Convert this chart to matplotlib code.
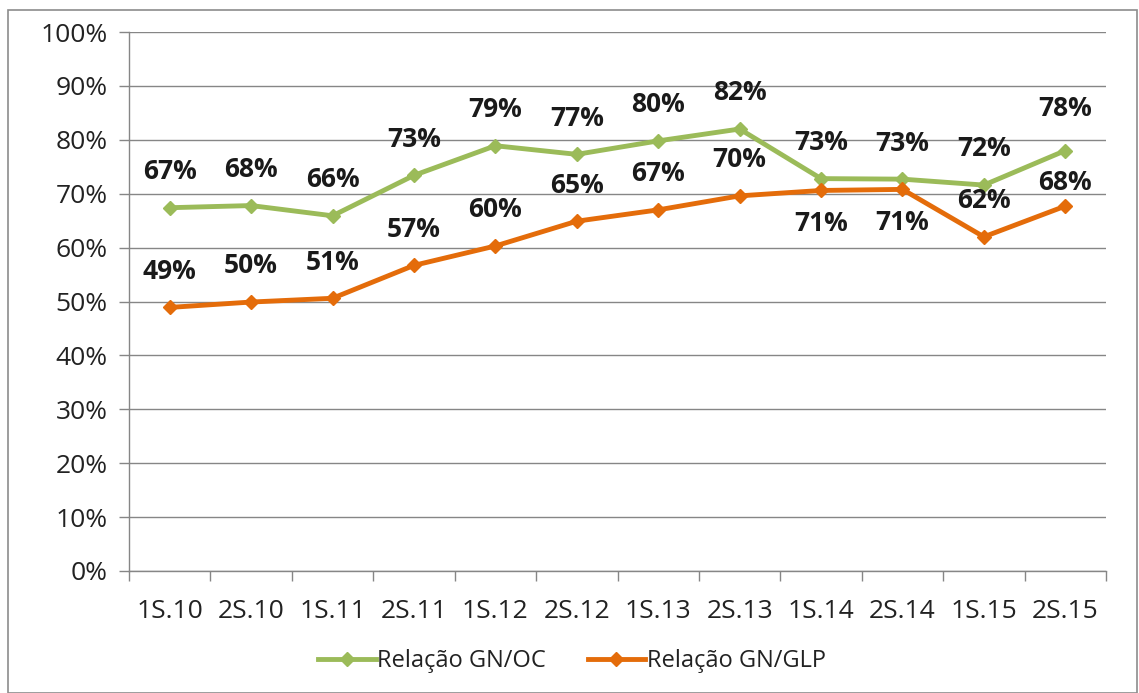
import matplotlib
matplotlib.use("Agg")
import matplotlib.pyplot as plt
from matplotlib.ticker import FuncFormatter, FixedLocator
from matplotlib.patches import Rectangle

categories = ["1S.10", "2S.10", "1S.11", "2S.11", "1S.12", "2S.12",
              "1S.13", "2S.13", "1S.14", "2S.14", "1S.15", "2S.15"]
gn_oc = [67.4, 67.8, 65.9, 73.4, 78.9, 77.3, 79.8, 82.0, 72.8, 72.7, 71.6, 78.0]
gn_glp = [48.9, 49.9, 50.6, 56.7, 60.3, 64.9, 67.0, 69.6, 70.6, 70.8, 62.0, 67.7]
oc_labels = ["67%", "68%", "66%", "73%", "79%", "77%", "80%", "82%", "73%", "73%", "72%", "78%"]
glp_labels = ["49%", "50%", "51%", "57%", "60%", "65%", "67%", "70%", "71%", "71%", "62%", "68%"]
glp_below = [False]*8 + [True, True, False, False]

plt.rcParams['font.family'] = ['Open Sans', 'DejaVu Sans']

fig = plt.figure(figsize=(11.39, 6.93), dpi=100)
ax = fig.add_axes([129/1139, 1-571/693, (1106-129)/1139, (571-32)/693])

green = "#9BBB59"
orange = "#E46C0A"
x = list(range(len(categories)))
ax.plot(x, gn_oc, color=green, lw=3.5, marker="D", ms=7, label="Relação GN/OC", zorder=3)
ax.plot(x, gn_glp, color=orange, lw=3.5, marker="D", ms=7, label="Relação GN/GLP", zorder=3)

lab_kw = dict(textcoords="offset points", ha="center", fontsize=19,
              fontweight="bold", color="#1a1a1a")
n = len(categories)
for i, (v, t) in enumerate(zip(gn_oc, oc_labels)):
    dy = 30 if i == n - 1 else 26
    ax.annotate(t, (i, v), xytext=(0, dy), va="center", **lab_kw)
for i, (v, t, b) in enumerate(zip(gn_glp, glp_labels, glp_below)):
    dy = -24 if b else (17 if i == n - 1 else 26)
    ax.annotate(t, (i, v), xytext=(0, dy), va="center", **lab_kw)

ax.set_xlim(-0.5, n - 0.5)
ax.set_ylim(0, 100)
ax.set_yticks(range(0, 101, 10))
ax.yaxis.set_major_formatter(FuncFormatter(lambda v, p: f"{int(v)}%"))
ax.set_xticks(x)
ax.set_xticklabels(categories)
ax.xaxis.set_minor_locator(FixedLocator([i - 0.5 for i in range(n + 1)]))
ax.tick_params(axis="x", which="major", length=0, pad=20, labelsize=19, labelcolor="#222222")
ax.tick_params(axis="x", which="minor", length=7.5, width=1, color="#868686", direction="out")
ax.tick_params(axis="y", length=7.5, width=1, color="#868686", pad=8, labelsize=19, labelcolor="#222222")

ax.grid(axis="y", color="#868686", lw=1)
ax.set_axisbelow(True)
for s in ["top", "right"]:
    ax.spines[s].set_visible(False)
for s in ["left", "bottom"]:
    ax.spines[s].set_color("#868686")
    ax.spines[s].set_linewidth(1)

leg = fig.legend(loc="center", bbox_to_anchor=(572/1139, 1-661/693), ncol=2, frameon=False,
                 fontsize=17, handlelength=2.45, columnspacing=1.75, handletextpad=0.05,
                 labelcolor="#222222")

fig.patches.append(Rectangle((8/1139, 0), (1137-8)/1139, 1-10/693, transform=fig.transFigure,
                             fill=False, edgecolor="#8c8c8c", lw=1.2))

fig.savefig("out.png", dpi=100)
